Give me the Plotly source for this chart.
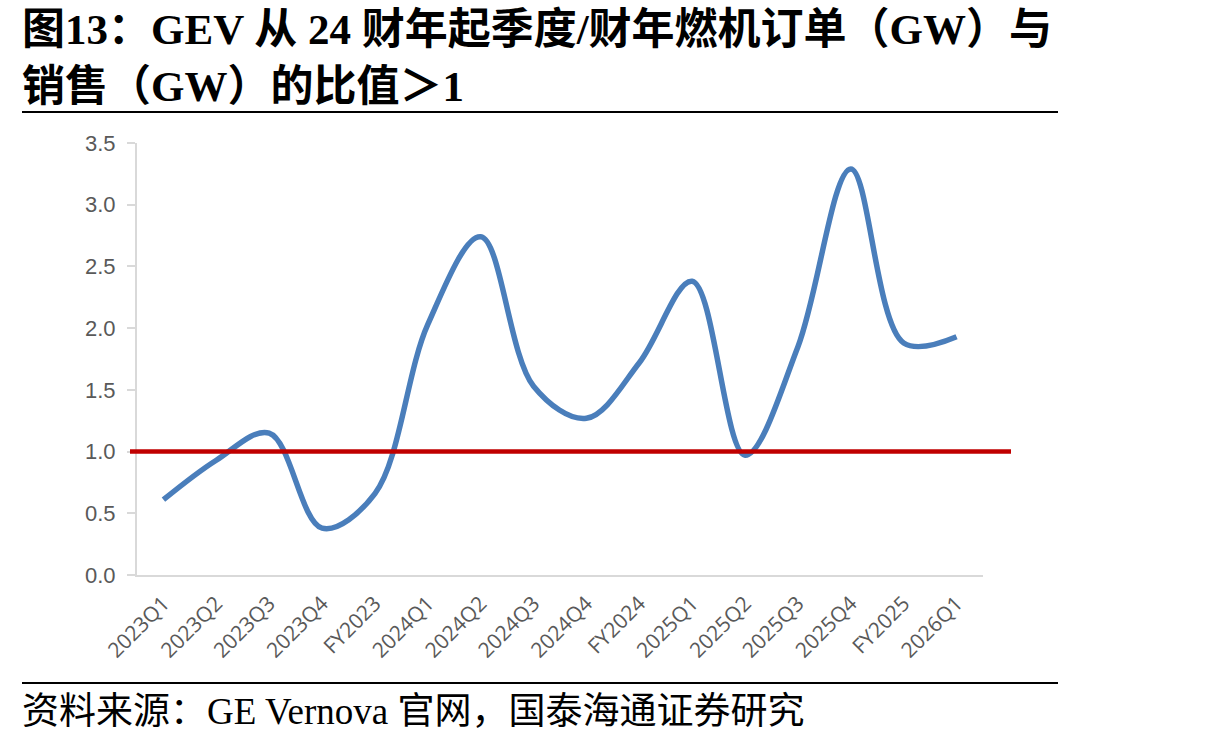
import plotly.graph_objects as go

categories = ["2023Q1", "2023Q2", "2023Q3", "2023Q4", "FY2023",
              "2024Q1", "2024Q2", "2024Q3", "2024Q4", "FY2024",
              "2025Q1", "2025Q2", "2025Q3", "2025Q4", "FY2025", "2026Q1"]
ratio = [0.61, 0.93, 1.15, 0.38, 0.66,
         2.03, 2.74, 1.53, 1.27, 1.72,
         2.38, 0.97, 1.85, 3.29, 1.88, 1.93]
threshold = 1.0
y_ticks = [0.0, 0.5, 1.0, 1.5, 2.0, 2.5, 3.0, 3.5]
y_tick_labels = ["0.0", "0.5", "1.0", "1.5", "2.0", "2.5", "3.0", "3.5"]

title_line1 = "图13：GEV 从 24 财年起季度/财年燃机订单（GW）与"
title_line2 = "销售（GW）的比值＞1"
source_text = "资料来源：GE Vernova 官网，国泰海通证券研究"

# layout in pixels
FW, FH = 1215, 742
L, R, T, B = 137, 983, 143, 575
W, H = R - L, B - T


def px(x):
    return (x - L) / W


def py(y):
    return (B - y) / H


fig = go.Figure()
fig.add_trace(go.Scatter(
    x=categories, y=ratio, mode="lines",
    line=dict(color="#4A7EBB", width=5.5, shape="spline", smoothing=1.0),
    hoverinfo="x+y", showlegend=False,
))

shapes = [
    dict(type="line", xref="paper", yref="y", x0=px(130), x1=px(1011),
         y0=threshold, y1=threshold, line=dict(color="#C00000", width=4.5), layer="above"),
    dict(type="line", xref="paper", yref="paper", x0=px(22), x1=px(1058),
         y0=py(112), y1=py(112), line=dict(color="#000000", width=2)),
    dict(type="line", xref="paper", yref="paper", x0=px(22), x1=px(1058),
         y0=py(683), y1=py(683), line=dict(color="#000000", width=2)),
]

title_font = dict(family="Liberation Serif, Noto Sans CJK SC", size=43, color="#000000")
annotations = [
    dict(text="<b>" + title_line1 + "</b>", xref="paper", yref="paper", x=px(20), y=py(30),
         xanchor="left", yanchor="middle", showarrow=False, font=title_font),
    dict(text="<b>" + title_line2 + "</b>", xref="paper", yref="paper", x=px(20), y=py(86),
         xanchor="left", yanchor="middle", showarrow=False, font=title_font),
    dict(text=source_text, xref="paper", yref="paper", x=px(20), y=py(711),
         xanchor="left", yanchor="middle", showarrow=False,
         font=dict(family="Liberation Serif, Noto Sans CJK SC", size=37, color="#000000")),
]

fig.update_layout(
    width=FW, height=FH,
    margin=dict(l=L, r=FW - R, t=T, b=FH - B, pad=0),
    paper_bgcolor="white", plot_bgcolor="white",
    shapes=shapes, annotations=annotations,
    xaxis=dict(
        type="category", tickangle=-45, showgrid=False, zeroline=False,
        showline=True, linecolor="#D9D9D9", linewidth=2, ticks="",
        tickfont=dict(family="Open Sans", size=21, color="#595959"),
        range=[-0.5, len(categories) - 0.5], ticklabelstandoff=6,
    ),
    yaxis=dict(
        range=[0, 3.5], tickvals=y_ticks, ticktext=y_tick_labels,
        showgrid=False, zeroline=False, showline=True, linecolor="#D9D9D9", linewidth=2,
        ticks="outside", ticklen=8, tickcolor="#D9D9D9", tickwidth=2,
        tickfont=dict(family="Liberation Sans, Arial", size=22, color="#595959"),
        ticklabelstandoff=7,
    ),
)

fig.write_html("out.html")
